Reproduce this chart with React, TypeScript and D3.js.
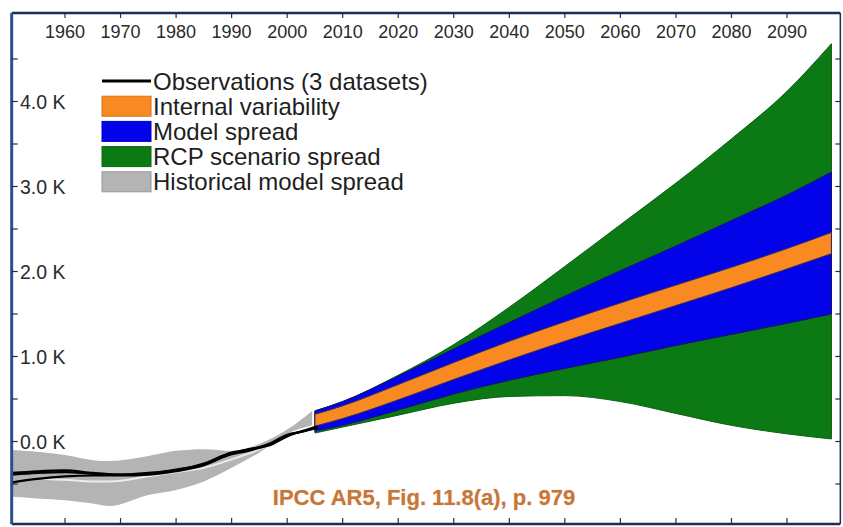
import * as d3 from 'd3'

// ---- data (K, relative to 1986-2005) ----
const projYears = [2005, 2010, 2020, 2030, 2040, 2050, 2060, 2070, 2080, 2090, 2098]
const rcpUpper = [0.36, 0.47, 0.78, 1.14, 1.58, 2.06, 2.55, 3.04, 3.56, 4.12, 4.68]
const rcpLower = [0.10, 0.17, 0.31, 0.45, 0.53, 0.54, 0.47, 0.33, 0.19, 0.09, 0.03]
const modelUpper = [0.36, 0.47, 0.77, 1.09, 1.40, 1.71, 2.01, 2.30, 2.60, 2.90, 3.17]
const modelLower = [0.12, 0.19, 0.37, 0.56, 0.72, 0.86, 0.99, 1.13, 1.26, 1.39, 1.50]
const internalUpper = [0.32, 0.42, 0.67, 0.93, 1.18, 1.41, 1.63, 1.84, 2.05, 2.27, 2.46]
const internalLower = [0.18, 0.27, 0.49, 0.73, 0.96, 1.18, 1.39, 1.60, 1.81, 2.03, 2.21]

const histYears = [1950.5, 1955, 1960, 1965, 1968, 1975, 1980, 1985, 1990, 1995, 2000, 2004.5]
const histUpper = [-0.10, -0.12, -0.16, -0.22, -0.23, -0.17, -0.11, -0.09, -0.11, -0.03, 0.14, 0.36]
const histLower = [-0.65, -0.67, -0.69, -0.73, -0.76, -0.63, -0.57, -0.47, -0.31, -0.13, 0.09, 0.19]

const meanYears = [1956, 1960, 1965, 1968, 1975, 1980, 1985, 1990, 1995, 2000]
const histMean = [-0.44, -0.45, -0.47, -0.47, -0.41, -0.36, -0.31, -0.21, -0.09, 0.07]

const obsYears = [1950.5, 1955, 1960, 1965, 1970, 1975, 1980, 1985, 1990, 1993, 1997, 2000, 2003, 2005.5]
const obsA = [-0.37, -0.35, -0.34, -0.37, -0.39, -0.38, -0.33, -0.27, -0.15, -0.11, -0.03, 0.07, 0.12, 0.16]
const obsB = [-0.48, -0.44, -0.41, -0.40, -0.40, -0.39, -0.35, -0.28, -0.14, -0.09, -0.04, 0.06, 0.13, 0.18]
const obsC = [-0.39, -0.37, -0.36, -0.38, -0.39, -0.37, -0.34, -0.26, -0.13, -0.10, -0.02, 0.08, 0.12, 0.17]

const decadeTicks = [1960, 1970, 1980, 1990, 2000, 2010, 2020, 2030, 2040, 2050, 2060, 2070, 2080, 2090]
const kLabels = [0, 1, 2, 3, 4]
const kMinor = [-0.5, 0, 0.5, 1, 1.5, 2, 2.5, 3, 3.5, 4, 4.5]

const legendItems = [
  { label: 'Observations (3 datasets)', kind: 'line', color: '#000000' },
  { label: 'Internal variability', kind: 'box', color: '#f98a22' },
  { label: 'Model spread', kind: 'box', color: '#0303ea' },
  { label: 'RCP scenario spread', kind: 'box', color: '#0b7a14' },
  { label: 'Historical model spread', kind: 'box', color: '#b4b4b4' },
]

export default function App() {
  const width = 843
  const height = 527

  const x = d3.scaleLinear().domain([1960, 2090]).range([65, 787])
  const y = d3.scaleLinear().domain([0, 4]).range([441.5, 101.5])

  const left = x(1950.4)
  const right = x(2099.6)
  const top = 13
  const bottom = 524

  const band = (years: number[], lo: number[], hi: number[]) =>
    d3.area<number>()
      .x((_, i) => x(years[i]))
      .y0((_, i) => y(lo[i]))
      .y1((_, i) => y(hi[i]))
      .curve(d3.curveMonotoneX)(years) || ''

  const line = (years: number[], vals: number[]) =>
    d3.line<number>()
      .x((_, i) => x(years[i]))
      .y((_, i) => y(vals[i]))
      .curve(d3.curveMonotoneX)(years) || ''

  const font = '"Liberation Sans", Arial, Helvetica, sans-serif'

  return (
    <svg width={width} height={height} style={{ position: 'absolute', left: 0, top: 0, background: '#fff' }}>
      <rect x={0} y={0} width={width} height={height} fill="#fff" />

      {/* projections */}
      <path d={band(projYears, rcpLower, rcpUpper)} fill="#0b7a14" stroke="#0a5e12" strokeWidth={1} />
      <path d={band(projYears, modelLower, modelUpper)} fill="#0303ea" stroke="#12126a" strokeWidth={1} />
      <path d={band(projYears, internalLower, internalUpper)} fill="#f98a22" stroke="#3b2a5a" strokeWidth={1} />

      {/* historical */}
      <path d={band(histYears, histLower, histUpper)} fill="#b4b4b4" />
      <path d={line(meanYears, histMean)} fill="none" stroke="#ececec" strokeWidth={2} />
      {[obsA, obsB, obsC].map((o, i) => (
        <path key={i} d={line(obsYears, o)} fill="none" stroke="#000" strokeWidth={2.2} />
      ))}

      {/* frame */}
      <line x1={left} x2={right} y1={top} y2={top} stroke="#1f2d55" strokeWidth={2.5} />
      <line x1={left} x2={right} y1={bottom} y2={bottom} stroke="#1f2d55" strokeWidth={2.5} />
      <line x1={right} x2={right} y1={top} y2={bottom} stroke="#1f2d55" strokeWidth={1.5} />
      <line x1={left} x2={left} y1={top} y2={bottom} stroke="#2c4f92" strokeWidth={3} />

      {/* x ticks top/bottom */}
      {decadeTicks.map(t => (
        <g key={t}>
          <line x1={x(t)} x2={x(t)} y1={top} y2={top + 5} stroke="#1f2d55" strokeWidth={1.2} />
          <line x1={x(t)} x2={x(t)} y1={bottom} y2={bottom - 6} stroke="#1f2d55" strokeWidth={1.2} />
          <text x={x(t)} y={38} textAnchor="middle" fontFamily={font} fontSize={18} fill="#2a2a2a">{t}</text>
        </g>
      ))}

      {/* y ticks left/right */}
      {kMinor.map(v => (
        <g key={v}>
          <line x1={left} x2={left + 6} y1={y(v)} y2={y(v)} stroke="#1f2d55" strokeWidth={1.2} />
          <line x1={right} x2={right - 5} y1={y(v)} y2={y(v)} stroke="#1f2d55" strokeWidth={1.2} />
        </g>
      ))}
      {kLabels.map(v => (
        <text key={v} x={20} y={y(v) + 7} fontFamily={font} fontSize={19.5} fill="#2a2a2a">
          {`${v.toFixed(1)} K`}
        </text>
      ))}

      {/* legend */}
      {legendItems.map((d, i) => {
        const cy = 81 + i * 25.2
        return (
          <g key={d.label}>
            {d.kind === 'line' ? (
              <line x1={102} x2={151} y1={cy} y2={cy} stroke={d.color} strokeWidth={3} />
            ) : (
              <rect x={102} y={cy - 10} width={49} height={20} fill={d.color}
                stroke={d3.color(d.color)!.darker(0.5).toString()} strokeWidth={1} />
            )}
            <text x={153} y={cy + 8.5} fontFamily={font} fontSize={24} fill="#1e1e1e">{d.label}</text>
          </g>
        )
      })}

      {/* source */}
      <text x={424} y={505} textAnchor="middle" fontFamily={font} fontSize={22} fontWeight="bold"
        fill="#c7763a" stroke="#f3d2b4" strokeWidth={0.6} paintOrder="stroke">
        IPCC AR5, Fig. 11.8(a), p. 979
      </text>
    </svg>
  )
}
